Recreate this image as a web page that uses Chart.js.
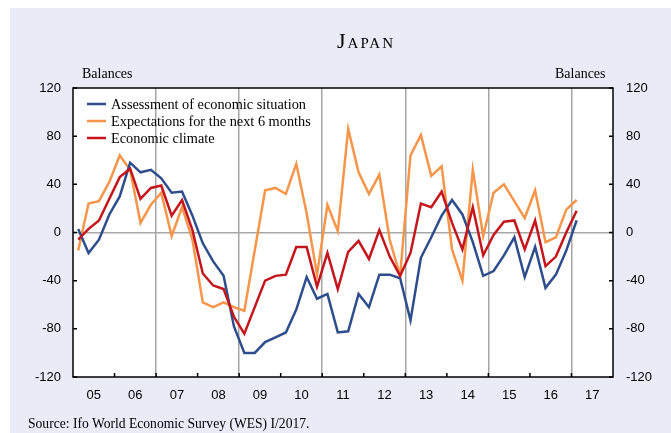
<!DOCTYPE html>
<html lang="en">
<head>
    <meta charset="UTF-8">
    <title>Japan - Ifo World Economic Survey</title>
    <script src="https://cdn.jsdelivr.net/npm/chart.js"></script>
    <style>
        body { margin: 0; background: #ffffff; }
        #quadro { position: relative; width: 671px; height: 433px; overflow: hidden; }
        #fundo { position: absolute; left: 10px; top: 8px; right: 0; bottom: 0; background: #e9ecf7; }
        #grafico1 { position: absolute; left: 0; top: 0; }
        .txt { position: absolute; font-family: "Liberation Serif", "Times New Roman", serif; color: #000; white-space: nowrap; }
    </style>
</head>
<body>
<div id="quadro">
    <div id="fundo"></div>
    <canvas id="grafico1" width="671" height="433"></canvas>
    <div class="txt" style="left:266px; width:200px; top:28px; text-align:center; font-size:22px; letter-spacing:2px; font-variant:small-caps;">Japan</div>
    <div class="txt" style="left:82px; top:66px; font-size:14px;">Balances</div>
    <div class="txt" style="left:555px; top:66px; font-size:14px;">Balances</div>
    <div class="txt" style="left:28px; top:416px; font-size:13.6px;">Source: Ifo World Economic Survey (WES) I/2017.</div>
</div>
<script>
    // anos do eixo x e marcas do eixo y
    const years = ['05', '06', '07', '08', '09', '10', '11', '12', '13', '14', '15', '16', '17']
    const yTicks = [-120, -80, -40, 0, 40, 80, 120]

    // trimestres: I/2005 ate I/2017
    const quarters = []
    years.forEach(a => ['I', 'II', 'III', 'IV'].forEach(q => quarters.push(q + '/' + a)))
    quarters.length = 49

    const labelsSeries = ['Assessment of economic situation', 'Expectations for the next 6 months', 'Economic climate']

    const assessment = [3, -17, -6, 15, 30, 58, 50, 52, 45, 33, 34, 14, -9,
        -24, -36, -78, -100, -100, -91, -87, -83, -64, -37, -55, -51,
        -83, -82, -51, -62, -35, -35, -38, -73, -21, -4, 14, 27,
        15, -8, -36, -32, -19, -4, -37, -12, -46, -35, -15, 10]

    const expectations = [-15, 24, 26, 42, 64, 52, 8, 23, 33, -3, 21, -6, -58,
        -62, -58, -62, -65, -15, 35, 37, 32, 57, 16, -35, 23,
        1, 86, 50, 32, 48, -6, -36, 64, 81, 47, 55, -14,
        -40, 52, -3, 33, 40, 26, 12, 35, -8, -4, 19, 27]

    const climate = [-6, 3, 10, 28, 46, 53, 28, 37, 39, 14, 27, 2, -34,
        -44, -47, -70, -84, -62, -40, -36, -35, -12, -12, -45, -17,
        -47, -16, -7, -22, 2, -20, -36, -17, 24, 21, 34, 8,
        -14, 21, -19, -2, 9, 10, -14, 10, -28, -20, 0, 18]

    const cores = ['#2e4d8c', '#f7964a', '#c4161c']

    // cada trimestre fica no meio da sua faixa no eixo linear
    const pontos = serie => serie.map((v, i) => ({ x: i + 0.5, y: v, q: quarters[i] }))

    const fonteEixo = { family: 'Liberation Sans', size: 13 }
    const cinza = '#a6a6a6'

    const extras = {
        id: 'extras',
        beforeDraw(chart) {
            const { ctx, chartArea: a } = chart
            ctx.save()
            ctx.fillStyle = '#ffffff'
            ctx.fillRect(a.left, a.top, a.right - a.left, a.bottom - a.top)
            ctx.restore()
        },
        afterDraw(chart) {
            const { ctx, chartArea: a, scales } = chart
            ctx.save()
            ctx.strokeStyle = '#000'
            ctx.lineWidth = 1.5
            ctx.beginPath()
            // marcas internas
            years.forEach((y, k) => {
                if (k === 0) return
                const px = scales.x.getPixelForValue(k * 4)
                ctx.moveTo(px, a.bottom)
                ctx.lineTo(px, a.bottom - 4)
            })
            yTicks.forEach(v => {
                const py = scales.y.getPixelForValue(v)
                ctx.moveTo(a.left, py)
                ctx.lineTo(a.left + 4, py)
                ctx.moveTo(a.right, py)
                ctx.lineTo(a.right - 4, py)
            })
            ctx.stroke()
            ctx.strokeRect(a.left, a.top, a.right - a.left, a.bottom - a.top)

            // legenda dentro do grafico
            ctx.font = '14.3px "Liberation Serif"'
            ctx.textBaseline = 'middle'
            ctx.fillStyle = '#000'
            chart.data.datasets.forEach((ds, i) => {
                const y = a.top + 16 + i * 17
                ctx.strokeStyle = ds.borderColor
                ctx.lineWidth = 2.5
                ctx.beginPath()
                ctx.moveTo(a.left + 14, y)
                ctx.lineTo(a.left + 33, y)
                ctx.stroke()
                ctx.fillText(ds.label, a.left + 38, y + 1)
            })
            ctx.restore()
        }
    }

    const ctx = document.getElementById('grafico1')

    new Chart(ctx, {
        type: 'line',
        data: {
            datasets: [
                { label: labelsSeries[0], data: pontos(assessment), borderColor: cores[0], order: 1 },
                { label: labelsSeries[1], data: pontos(expectations), borderColor: cores[1], order: 2 },
                { label: labelsSeries[2], data: pontos(climate), borderColor: cores[2], order: 0 }
            ]
        },
        options: {
            responsive: false,
            animation: false,
            events: [],
            layout: { padding: { top: 88, left: 0, right: 0, bottom: 0 } },
            elements: {
                line: { borderWidth: 2.5, tension: 0, fill: false },
                point: { radius: 0 }
            },
            plugins: {
                legend: { display: false },
                tooltip: { enabled: false }
            },
            scales: {
                x: {
                    type: 'linear',
                    min: 0,
                    max: years.length * 4,
                    afterBuildTicks: s => { s.ticks = years.map((y, k) => ({ value: k * 4 })).concat({ value: years.length * 4 }) },
                    afterFit: s => { s.height = 56 },
                    ticks: {
                        autoSkip: false,
                        maxRotation: 0,
                        labelOffset: 20.8,
                        padding: 11,
                        color: '#000',
                        font: fonteEixo,
                        callback: v => years[v / 4] ?? ''
                    },
                    grid: {
                        drawTicks: false,
                        lineWidth: 1.5,
                        color: c => (c.tick && c.tick.value % 8 === 0 && c.tick.value > 0 && c.tick.value < 52) ? cinza : 'rgba(0,0,0,0)'
                    },
                    border: { display: false }
                },
                y: {
                    position: 'left',
                    min: -120,
                    max: 120,
                    afterBuildTicks: s => { s.ticks = yTicks.map(v => ({ value: v })) },
                    afterFit: s => { s.width = 73 },
                    ticks: { padding: 12, color: '#000', font: fonteEixo },
                    grid: {
                        drawTicks: false,
                        lineWidth: 1.5,
                        color: c => (c.tick && c.tick.value === 0) ? cinza : 'rgba(0,0,0,0)'
                    },
                    border: { display: false }
                },
                y2: {
                    position: 'right',
                    min: -120,
                    max: 120,
                    afterBuildTicks: s => { s.ticks = yTicks.map(v => ({ value: v })) },
                    afterFit: s => { s.width = 58 },
                    ticks: { padding: 13, color: '#000', font: fonteEixo },
                    grid: { display: false, drawTicks: false },
                    border: { display: false }
                }
            }
        },
        plugins: [extras]
    })
</script>
</body>
</html>
